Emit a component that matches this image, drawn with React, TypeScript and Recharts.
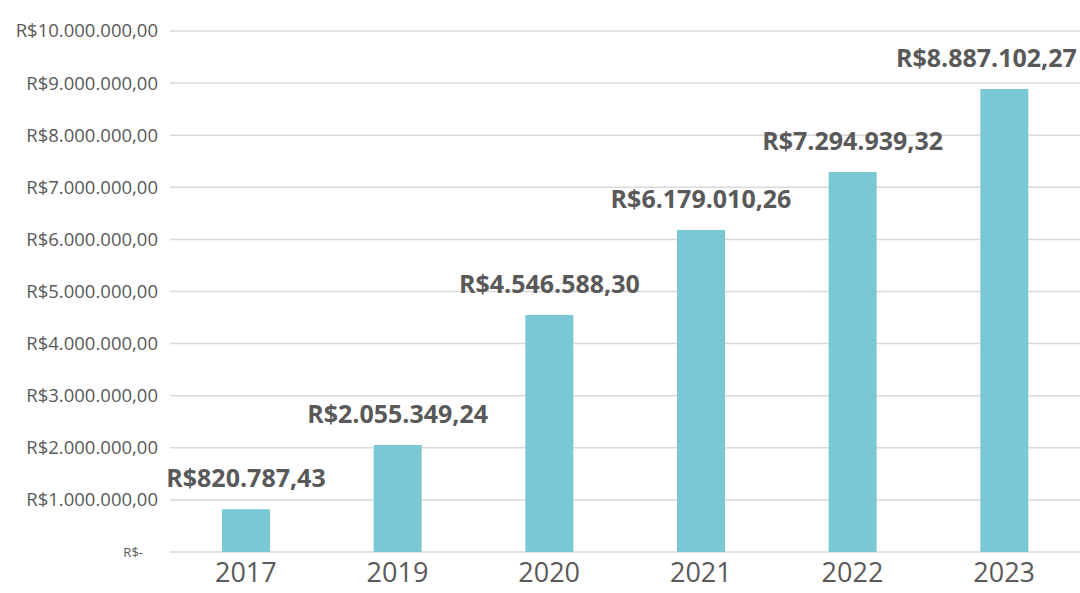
import { BarChart, Bar, XAxis, YAxis, CartesianGrid, LabelList } from 'recharts'

const years = ['2017', '2019', '2020', '2021', '2022', '2023']
const revenue = [820787.43, 2055349.24, 4546588.3, 6179010.26, 7294939.32, 8887102.27]
const yTicks = [0, 1000000, 2000000, 3000000, 4000000, 5000000, 6000000, 7000000, 8000000, 9000000, 10000000]

const data = years.map((year, i) => ({ year, value: revenue[i] }))

const textColor = '#595959'
const font = '"Open Sans", "Noto Sans", sans-serif'

// brazilian currency: R$1.234.567,89
function brl(v: number) {
  const [int, dec] = v.toFixed(2).split('.')
  const grouped = int.replace(/\B(?=(\d{3})+(?!\d))/g, '.')
  return `R$${grouped},${dec}`
}

// eslint-disable-next-line @typescript-eslint/no-explicit-any
function YTick({ x, y, payload }: any) {
  if (payload.value === 0) {
    return (
      <text x={x - 15} y={y} dy="0.35em" textAnchor="end" fontSize={13} fill={textColor} fontFamily={font}>
        R$-
      </text>
    )
  }
  return (
    <text x={x} y={y} dy="0.35em" textAnchor="end" fontSize={18.5} fill={textColor} fontFamily={font}>
      {brl(payload.value)}
    </text>
  )
}

// value label above the bar; the last one is nudged left so less of it runs off the edge
// eslint-disable-next-line @typescript-eslint/no-explicit-any
function ValueLabel({ x, y, width, value, index }: any) {
  const shift = index === years.length - 1 ? -18 : 0
  return (
    <text
      x={x + width / 2 + shift}
      y={y - 22}
      textAnchor="middle"
      fontSize={25}
      fontWeight={700}
      fill={textColor}
      fontFamily={font}
    >
      {brl(Number(value))}
    </text>
  )
}

export default function App() {
  return (
    <div style={{ position: 'absolute', left: 0, top: 0, background: '#fff' }}>
      <BarChart
        width={1080}
        height={593}
        data={data}
        margin={{ top: 31, right: 0, left: 0, bottom: 0 }}
      >
        <CartesianGrid stroke="#d9d9d9" strokeWidth={1.5} vertical={false} />
        <XAxis
          dataKey="year"
          height={41}
          axisLine={false}
          tickLine={false}
          tickMargin={5}
          tick={{ fontSize: 27, fill: textColor, fontFamily: font }}
        />
        <YAxis
          width={170}
          domain={[0, 10000000]}
          ticks={yTicks}
          axisLine={false}
          tickLine={false}
          tickMargin={6}
          tick={<YTick />}
        />
        <Bar dataKey="value" fill="#7bc8d5" barSize={48} isAnimationActive={false}>
          <LabelList dataKey="value" content={<ValueLabel />} />
        </Bar>
      </BarChart>
    </div>
  )
}
